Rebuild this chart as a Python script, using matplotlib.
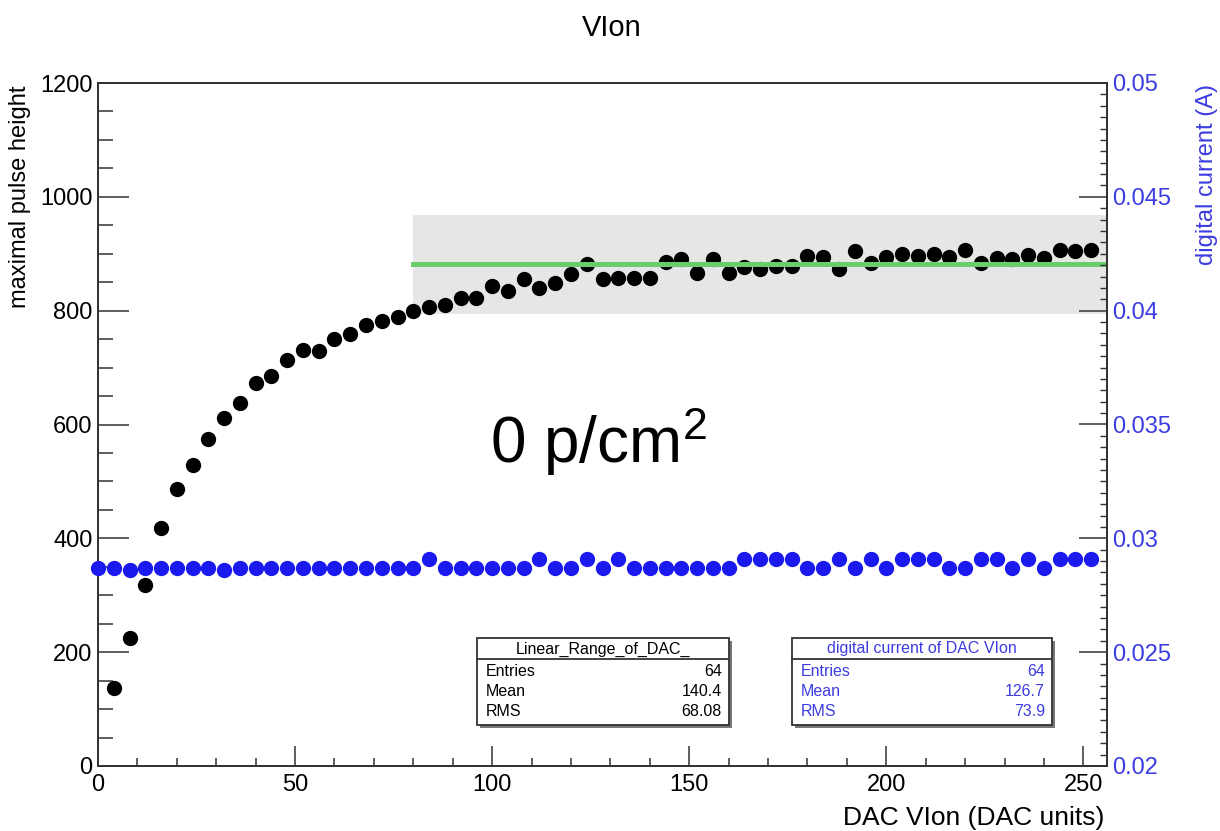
import numpy as np
import matplotlib
matplotlib.use("Agg")
import matplotlib.pyplot as plt
from matplotlib.patches import Rectangle
from matplotlib.ticker import MultipleLocator

plt.rcParams['font.family'] = ['Liberation Sans', 'DejaVu Sans']
plt.rcParams['mathtext.default'] = 'regular'

# Data
dac_black = np.arange(4, 256, 4)
pulse_height = [137, 225, 318, 418, 486, 528, 575, 611, 638, 673, 685, 713,
                731, 730, 750, 759, 775, 782, 788, 800, 807, 810, 823, 822,
                843, 835, 855, 839, 848, 864, 882, 856, 857, 857, 858, 885,
                891, 866, 891, 866, 877, 873, 879, 879, 896, 895, 873, 904,
                884, 895, 900, 896, 899, 895, 906, 884, 892, 891, 898, 892,
                906, 904, 906]

dac_blue = np.arange(0, 256, 4)
digital_current = [0.0287, 0.0287, 0.0286, 0.0287, 0.0287, 0.0287, 0.0287, 0.0287,
                   0.0286, 0.0287, 0.0287, 0.0287, 0.0287, 0.0287, 0.0287, 0.0287,
                   0.0287, 0.0287, 0.0287, 0.0287, 0.0287, 0.0291, 0.0287, 0.0287,
                   0.0287, 0.0287, 0.0287, 0.0287, 0.0291, 0.0287, 0.0287, 0.0291,
                   0.0287, 0.0291, 0.0287, 0.0287, 0.0287, 0.0287, 0.0287, 0.0287,
                   0.0287, 0.0291, 0.0291, 0.0291, 0.0291, 0.0287, 0.0287, 0.0291,
                   0.0287, 0.0291, 0.0287, 0.0291, 0.0291, 0.0291, 0.0287, 0.0287,
                   0.0291, 0.0291, 0.0287, 0.0291, 0.0287, 0.0291, 0.0291, 0.0291]

# linear range band and fit level
range_x = [80, 256]
range_band = [794, 968]
fit_level = 882

stats_black = [("Entries", "64"), ("Mean", "140.4"), ("RMS", "68.08")]
stats_blue = [("Entries", "64"), ("Mean", "126.7"), ("RMS", "73.9")]

W, H = 1220, 831
fx = lambda px: px / W
fy = lambda py: 1 - py / H

blue = '#1a1aee'
label_blue = '#3c3ce0'
frame = '#333333'

fig = plt.figure(figsize=(W / 100, H / 100), dpi=100)
ax = fig.add_axes([fx(98), fy(766), fx(1107) - fx(98), fy(83) - fy(766)])

ax.fill_between(range_x, range_band[0], range_band[1], color='#e6e6e6', lw=0, zorder=1)
ax.plot(dac_black, pulse_height, 'o', color='black', ms=10, zorder=3)
ax.plot(range_x, [fit_level, fit_level], color='#6acc6a', lw=3.6, zorder=4)

ax.set_xlim(0, 256)
ax.set_ylim(0, 1200)
ax.xaxis.set_major_locator(MultipleLocator(50))
ax.xaxis.set_minor_locator(MultipleLocator(10))
ax.yaxis.set_major_locator(MultipleLocator(200))
ax.yaxis.set_minor_locator(MultipleLocator(50))
ax.tick_params(axis='x', which='major', direction='in', length=14.5, width=1.1,
               color=frame, labelsize=17, pad=5.5, top=False)
ax.tick_params(axis='x', which='minor', direction='in', length=6, width=1.1,
               color=frame, top=False)
ax.tick_params(axis='y', which='major', direction='in', length=22, width=1.1,
               color=frame, labelsize=17, pad=4, right=False)
ax.tick_params(axis='y', which='minor', direction='in', length=11, width=1.1,
               color=frame, right=False)
for s in ax.spines.values():
    s.set_color(frame)
    s.set_linewidth(1.4)

ax2 = ax.twinx()
ax2.plot(dac_blue, digital_current, 'o', color=blue, ms=10, zorder=3, clip_on=False)
ax2.set_ylim(0.02, 0.05)
ax2.yaxis.set_major_locator(MultipleLocator(0.005))
ax2.yaxis.set_minor_locator(MultipleLocator(0.0005))
ax2.yaxis.set_major_formatter(lambda v, p: f"{v:g}")
ax2.tick_params(axis='y', which='major', direction='in', length=20, width=1.1,
                color=frame, labelsize=17, labelcolor=label_blue, pad=4)
ax2.tick_params(axis='y', which='minor', direction='in', length=5, width=1.0,
                color=frame)
for s in ax2.spines.values():
    s.set_color(frame)
    s.set_linewidth(1.4)

# titles and axis labels
fig.text(fx(612), fy(28), "VIon", ha='center', va='center', fontsize=21)
fig.text(fx(1104), fy(818), "DAC VIon (DAC units)", ha='right', va='center', fontsize=19)
fig.text(fx(20), fy(86), "maximal pulse height", rotation=90, ha='center', va='top',
         fontsize=17)
fig.text(fx(1207), fy(84), "digital current (A)", rotation=90, ha='center', va='top',
         fontsize=17, color=label_blue)
ax.text(99.5, 533, "0 p/cm$^2$", ha='left', va='baseline', fontsize=46, zorder=5)


def stats_box(x0, y0, x1, y1, title, rows, color):
    # shadow, body, header line
    fig.patches.append(Rectangle((fx(x0 + 3), fy(y1 + 3)), fx(x1) - fx(x0), fy(y0) - fy(y1),
                                 transform=fig.transFigure, facecolor='#777777',
                                 edgecolor='none', zorder=6))
    fig.patches.append(Rectangle((fx(x0), fy(y1)), fx(x1) - fx(x0), fy(y0) - fy(y1),
                                 transform=fig.transFigure, facecolor='white',
                                 edgecolor='#333333', lw=1.3, zorder=7))
    hy = y0 + 21
    fig.add_artist(plt.Line2D([fx(x0), fx(x1)], [fy(hy), fy(hy)], color='#333333',
                              lw=1.3, zorder=8))
    fig.text(fx((x0 + x1) / 2), fy(y0 + 11), title, ha='center', va='center',
             fontsize=11.5, color=color, zorder=9)
    for i, (k, v) in enumerate(rows):
        yy = y0 + 33 + i * 20.5
        fig.text(fx(x0 + 9), fy(yy), k, ha='left', va='center', fontsize=11.5,
                 color=color, zorder=9)
        fig.text(fx(x1 - 7), fy(yy), v, ha='right', va='center', fontsize=11.5,
                 color=color, zorder=9)


stats_box(477, 638, 729, 725, "Linear_Range_of_DAC_", stats_black, 'black')
stats_box(792, 638, 1052, 725, "digital current of DAC VIon", stats_blue, label_blue)

fig.savefig("out.png", dpi=100)
